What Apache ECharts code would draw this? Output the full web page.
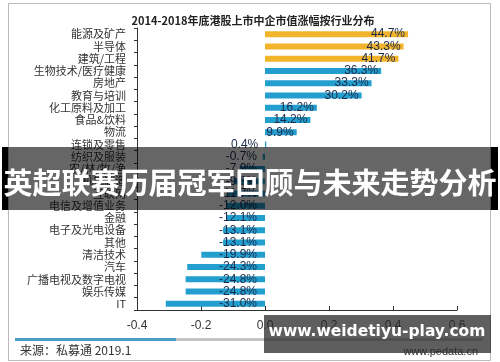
<!DOCTYPE html>
<html><head><meta charset="utf-8">
<script src="https://cdn.jsdelivr.net/npm/echarts@6/dist/echarts.min.js"></script>
<style>html,body{margin:0;padding:0;background:#fff}#c{width:500px;height:362px}</style>
</head><body><div id="c"></div>
<script>
const titleText = '2014-2018年底港股上市中企市值涨幅按行业分布';
const categories = ['能源及矿产','半导体','建筑/工程','生物技术/医疗健康','房地产','教育与培训','化工原料及加工','食品&饮料','物流','连锁及零售','纺织及服装','农/林/牧/渔','机械制造','互联网','电信及增值业务','金融','电子及光电设备','其他','清洁技术','汽车','广播电视及数字电视','娱乐传媒','IT'];
const growthPct = [44.7,43.3,41.7,36.3,33.3,30.2,16.2,14.2,9.9,0.4,-0.7,-7.9,-9.8,-11.7,-12.0,-12.1,-13.1,-13.1,-19.9,-24.3,-24.8,-24.8,-31.0];
const xTicks = [-0.4,-0.2,0.0,0.2,0.4,0.6];
const sourceText = '来源：私募通 2019.1';
const siteText = 'www.pedata.cn';
const bannerText = '英超联赛历届冠军回顾与未来走势分析';
const watermarkText = 'www.weidetiyu-play.com';

const GOLD = '#F2B42A', BLUE = '#239FCF';
const data = growthPct.map((v, i) => ({
  value: v / 100,
  itemStyle: { color: i < 3 ? GOLD : BLUE },
  label: { distance: v >= 1 ? 3 : 8 }
}));

const chart = echarts.init(document.getElementById('c'));
chart.setOption({
  animation: false,
  title: { text: titleText, left: 248, textAlign: 'center', top: 10,
    textStyle: { fontSize: 11, fontWeight: 'bold', color: '#222', fontFamily: 'Noto Sans CJK SC' } },
  grid: { left: 137, right: 43, top: 28, bottom: 52 },
  xAxis: {
    type: 'value', min: xTicks[0], max: xTicks[xTicks.length - 1], interval: 0.2,
    splitLine: { show: false },
    axisLine: { show: true, lineStyle: { color: '#333' } },
    axisTick: { show: true, inside: true, length: 4, lineStyle: { color: '#333' } },
    axisLabel: { margin: 10, color: '#333', fontSize: 12, fontFamily: 'Liberation Sans',
      formatter: v => v.toFixed(1) }
  },
  yAxis: [{
    type: 'category', data: categories, inverse: true, position: 'left',
    axisLine: { show: false }, axisTick: { show: false },
    axisLabel: { interval: 0, margin: 11, color: '#333', fontSize: 11, fontFamily: 'Noto Sans CJK SC' }
  }, {
    type: 'category', data: categories, inverse: true, position: 'left',
    axisLine: { show: true, onZero: true, lineStyle: { color: '#333' } },
    axisTick: { show: true, interval: 0, length: 3, lineStyle: { color: '#333' } },
    axisLabel: { show: false }
  }],
  series: [{
    type: 'bar', data: data, barWidth: 6, yAxisIndex: 0,
    label: { show: true, position: 'insideRight', color: '#1C2B4A', fontSize: 12,
      fontFamily: 'Liberation Sans', formatter: p => (p.value * 100).toFixed(1) + '%' }
  }],
  graphic: [
    { type: 'rect', shape: { x: 8.5, y: 3.5, width: 482, height: 357 }, style: { fill: 'none', stroke: '#bbb', lineWidth: 1 }, z: 1 },
    { type: 'rect', shape: { x: 15, y: 338, width: 161, height: 3 }, style: { fill: '#4B9DC9' } },
    { type: 'rect', shape: { x: 176, y: 338, width: 307, height: 3 }, style: { fill: '#C4C4C4' } },
    { type: 'text', left: 20, top: 344, style: { text: sourceText, fontSize: 12, fill: '#333', fontFamily: 'Noto Sans CJK SC' } },
    { type: 'text', right: 22, top: 346, style: { text: siteText, fontSize: 11, fill: '#333', fontFamily: 'Liberation Sans' } },
    { type: 'rect', shape: { x: 2, y: 147, width: 6, height: 63 }, style: { fill: '#000' }, z: 100 },
    { type: 'rect', shape: { x: 491, y: 147, width: 7, height: 63 }, style: { fill: '#000' }, z: 100 },
    { type: 'rect', shape: { x: 8, y: 147, width: 483, height: 63 }, style: { fill: 'rgba(0,0,0,0.6)' }, z: 100 },
    { type: 'text', x: 250, y: 183, z: 101, style: { text: bannerText, fill: '#fff', fontSize: 29, fontWeight: 'bold',
        fontFamily: 'Noto Sans CJK SC', align: 'center', verticalAlign: 'middle' } },
    { type: 'rect', shape: { x: 264, y: 315, width: 227, height: 38 }, style: { fill: 'rgba(40,40,40,0.75)' }, z: 100 },
    { type: 'text', x: 377, y: 332, z: 101, style: { text: watermarkText, fill: '#fff', fontSize: 15.5, fontWeight: 'bold',
        fontFamily: 'DejaVu Sans', align: 'center', verticalAlign: 'middle' } }
  ]
});
</script></body></html>
